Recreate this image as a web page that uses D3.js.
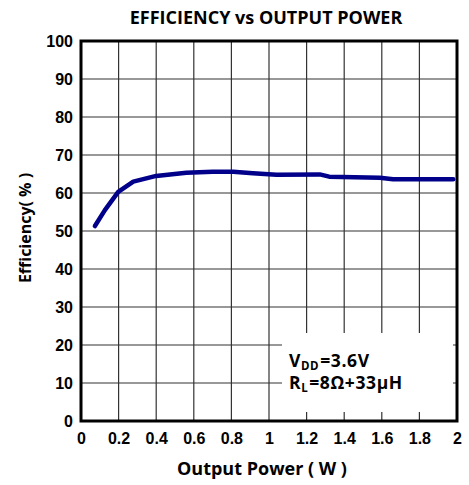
<!DOCTYPE html>
<html><head><meta charset="utf-8">
<script src="https://cdn.jsdelivr.net/npm/d3@7"></script>
<style>body{margin:0;background:#fff}</style>
</head><body>
<svg id="c" width="469" height="485"></svg>
<script>
const powerW = [0.074,0.127,0.198,0.278,0.40,0.56,0.70,0.81,0.914,1.04,1.27,1.32,1.59,1.66,1.98];
const efficiency = [51.3,55.5,60.3,63.0,64.5,65.3,65.6,65.6,65.2,64.8,64.9,64.3,64.0,63.6,63.6];
const xTicks = [0,0.2,0.4,0.6,0.8,1,1.2,1.4,1.6,1.8,2];
const yTicks = [0,10,20,30,40,50,60,70,80,90,100];

const svg = d3.select("#c");
const L=81, R=457, T=41, B=421;
const x = d3.scaleLinear().domain([0,2]).range([L,R]);
const y = d3.scaleLinear().domain([0,100]).range([B,T]);
const headFont = "'Open Sans', sans-serif";
const tickFont = "'Liberation Sans', Arial, sans-serif";

// grid
svg.append("g").selectAll("line").data(xTicks.slice(1,-1)).join("line")
  .attr("x1",d=>x(d)).attr("x2",d=>x(d)).attr("y1",T).attr("y2",B)
  .attr("stroke","#333").attr("stroke-width",1.2);
svg.append("g").selectAll("line").data(yTicks.slice(1,-1)).join("line")
  .attr("y1",d=>y(d)).attr("y2",d=>y(d)).attr("x1",L).attr("x2",R)
  .attr("stroke","#333").attr("stroke-width",1.2);

// annotation box (white, covers grid)
svg.append("rect").attr("x",282).attr("y",333).attr("width",171).attr("height",79).attr("fill","#fff");

// curve
svg.append("path").datum(powerW.map((p,i)=>[p,efficiency[i]]))
  .attr("d", d3.line().x(d=>x(d[0])).y(d=>y(d[1])).curve(d3.curveLinear))
  .attr("fill","none").attr("stroke","#00008a").attr("stroke-width",4.5)
  .attr("stroke-linecap","round").attr("stroke-linejoin","round");

// frame
svg.append("rect").attr("x",L).attr("y",T).attr("width",R-L).attr("height",B-T)
  .attr("fill","none").attr("stroke","#000").attr("stroke-width",3);

// axes labels via d3 axes
const xAxis = d3.axisBottom(x).tickValues(xTicks).tickSize(0).tickPadding(12).tickFormat(d=>String(d));
const gx = svg.append("g").attr("transform",`translate(0,${B})`).call(xAxis);
const yAxis = d3.axisLeft(y).tickValues(yTicks).tickSize(0).tickPadding(8).tickFormat(d=>String(d));
const gy = svg.append("g").attr("transform",`translate(${L},0)`).call(yAxis);
[gx,gy].forEach(g=>{
  g.select(".domain").remove();
  g.selectAll("text").attr("font-family",tickFont).attr("font-weight","bold")
   .attr("font-size",16).attr("fill","#000");
});

// title
svg.append("text").attr("x",266).attr("y",24).attr("text-anchor","middle")
  .attr("font-family",headFont).attr("font-weight","bold").attr("font-size",18)
  .text("EFFICIENCY vs OUTPUT POWER");
// x label
svg.append("text").attr("x",262).attr("y",475).attr("text-anchor","middle")
  .attr("font-family",headFont).attr("font-weight","bold").attr("font-size",18)
  .text("Output Power ( W )");
// y label
svg.append("text").attr("transform","translate(31,228) rotate(-90)").attr("text-anchor","middle")
  .attr("font-family",headFont).attr("font-weight","bold").attr("font-size",16)
  .text("Efficiency( % )");

// annotation
const a1 = svg.append("text").attr("x",289).attr("y",367)
  .attr("font-family",headFont).attr("font-weight","bold").attr("font-size",17.5)
  .attr("letter-spacing",0.6);
a1.append("tspan").text("V");
a1.append("tspan").attr("font-size",11.5).attr("dy",2.5).text("DD");
a1.append("tspan").attr("dy",-2.5).attr("dx",1).text("=3.6V");
const a2 = svg.append("text").attr("x",289).attr("y",389)
  .attr("font-family",headFont).attr("font-weight","bold").attr("font-size",17.5)
  .attr("letter-spacing",0.6);
a2.append("tspan").text("R");
a2.append("tspan").attr("font-size",11.5).attr("dy",2.5).text("L");
a2.append("tspan").attr("dy",-2.5).attr("dx",1).text("=8Ω+33μH");
</script>
</body></html>
